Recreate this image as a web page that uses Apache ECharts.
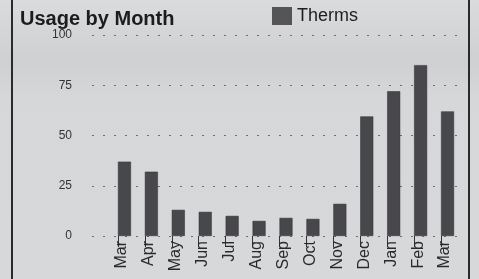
<!DOCTYPE html>
<html>
<head>
<meta charset="utf-8">
<script src="https://cdn.jsdelivr.net/npm/echarts@6/dist/echarts.min.js"></script>
<style>
  html, body { margin: 0; padding: 0; }
  #main { width: 479px; height: 279px; }
</style>
</head>
<body>
<div id="main"></div>
<script>
var months = ['Mar', 'Apr', 'May', 'Jun', 'Jul', 'Aug', 'Sep', 'Oct', 'Nov', 'Dec', 'Jan', 'Feb', 'Mar'];
var therms = [37, 32, 13, 12, 10, 7.5, 9, 8.5, 16, 59.5, 72, 85, 62];
var yTicks = [0, 25, 50, 75, 100];

(function () {
    'use strict';

    var chart = echarts.init(document.getElementById('main'));
    var font = '"Liberation Sans", Arial, sans-serif';

    var option = {
        backgroundColor: {
            type: 'linear', x: 0, y: 0, x2: 0, y2: 1,
            colorStops: [
                { offset: 0, color: '#dadbdd' },
                { offset: 0.22, color: '#cfd0d2' },
                { offset: 0.35, color: '#d6d7d9' },
                { offset: 1, color: '#d7d8da' }
            ]
        },
        textStyle: { fontFamily: font },
        title: {
            text: 'Usage by Month',
            left: 15,
            top: 4,
            textStyle: { fontSize: 20, fontWeight: 'bold', color: '#1c1c1c', fontFamily: font }
        },
        legend: {
            data: ['Therms'],
            icon: 'rect',
            left: 267,
            top: 2,
            itemWidth: 20,
            itemHeight: 18,
            itemStyle: { color: '#555558', borderWidth: 0 },
            textStyle: { fontSize: 18, color: '#1e1e1e', fontFamily: font }
        },
        graphic: [{
            type: 'rect',
            shape: { x: 12, y: -10, width: 457, height: 300 },
            style: { fill: 'none', stroke: '#2a2a2a', lineWidth: 2 }
        }],
        grid: [
            { left: 92, right: 14, top: 35, bottom: 43 },
            { left: 104.5, right: 24.5, top: 35, bottom: 43 }
        ],
        xAxis: [
            { gridIndex: 0, type: 'category', data: [''], show: false },
            {
                gridIndex: 1,
                type: 'category',
                data: months,
                axisLine: { show: false },
                axisTick: { show: true, alignWithLabel: true, length: 11, lineStyle: { color: '#333', width: 1 } },
                axisLabel: {
                    rotate: 90,
                    margin: 5,
                    fontSize: 16,
                    color: '#2a2a2a',
                    verticalAlign: 'top',
                    lineHeight: 8,
                    fontFamily: font
                }
            }
        ],
        yAxis: [
            {
                gridIndex: 0,
                type: 'value',
                min: yTicks[0],
                max: yTicks[yTicks.length - 1],
                interval: 25,
                axisLine: { show: false },
                axisTick: { show: false },
                axisLabel: { margin: 20, fontSize: 12, color: '#333', fontFamily: font },
                splitLine: { lineStyle: { color: '#6e6e70', type: [2, 9], width: 1 } }
            },
            {
                gridIndex: 1,
                type: 'value',
                min: yTicks[0],
                max: yTicks[yTicks.length - 1],
                show: false,
                splitLine: { show: false }
            }
        ],
        series: [
            {
                // empty spacer so the bars sit just right of each tick
                name: 'spacer',
                type: 'bar',
                xAxisIndex: 1,
                yAxisIndex: 1,
                barWidth: 13,
                barGap: '0%',
                data: []
            },
            {
                name: 'Therms',
                type: 'bar',
                xAxisIndex: 1,
                yAxisIndex: 1,
                barWidth: 13,
                barGap: '0%',
                itemStyle: { color: '#48484c', borderColor: '#2e2e30', borderWidth: 0.5 },
                data: therms
            }
        ]
    };

    chart.setOption(option);
})();
</script>
</body>
</html>
